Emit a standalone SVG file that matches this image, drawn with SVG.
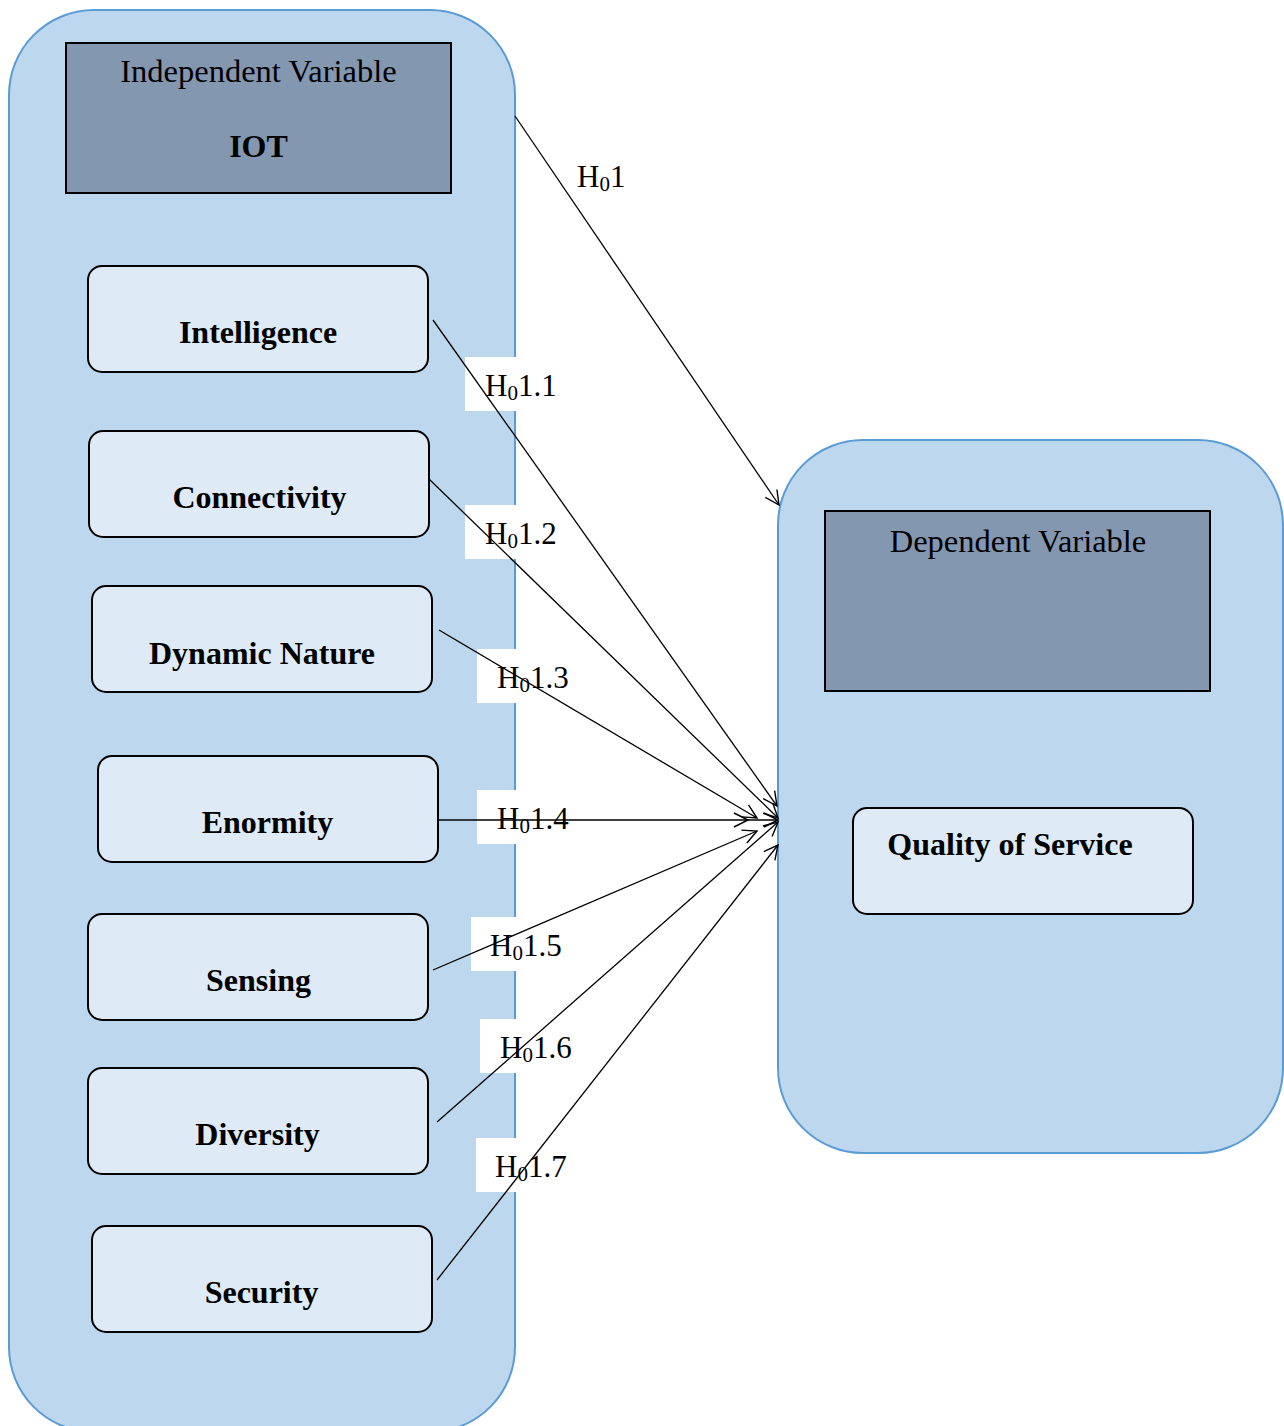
<svg xmlns="http://www.w3.org/2000/svg" width="1284" height="1426" viewBox="0 0 1284 1426">
<style>
.container{fill:#bdd7ee;stroke:#5b9bd5;stroke-width:2}
.header{fill:#8497b0;stroke:#000;stroke-width:2}
.node{fill:#deebf7;stroke:#000;stroke-width:2}
.t{font-family:"Liberation Serif","Times New Roman",serif;fill:#000}
.reg{font-size:32.5px}
.bold{font-size:32px;font-weight:bold}
.lbl{font-size:31px}
.sub{font-size:21px}
.lblbg{fill:#fff}
.conn{stroke:#000;stroke-width:1.3;fill:none;marker-end:url(#arr)}
</style>
<defs>
<marker id="arr" markerUnits="userSpaceOnUse" markerWidth="20" markerHeight="20" refX="15" refY="8" orient="auto">
<path d="M1,1 L15,8 L1,15" fill="none" stroke="#000" stroke-width="1.4"/>
</marker>
</defs>
<rect width="1284" height="1426" fill="#fff"/>
<g id="independent-container">
<rect class="container" x="9" y="10" width="506" height="1422" rx="85" ry="85"/>
</g>
<g id="dependent-container">
<rect class="container" x="778" y="440" width="505" height="713" rx="85" ry="85"/>
</g>
<g id="independent-variable">
<rect class="header" x="66" y="43" width="385" height="150"/>
<text class="t reg" x="258.5" y="82" text-anchor="middle">Independent Variable</text>
<text class="t bold" x="258.5" y="157" text-anchor="middle">IOT</text>
</g>
<g id="dependent-variable">
<rect class="header" x="825" y="511" width="385" height="180"/>
<text class="t reg" x="1018" y="552" text-anchor="middle">Dependent Variable</text>
</g>
<g id="intelligence">
<rect class="node" x="88" y="266" width="340" height="106" rx="14"/>
<text class="t bold" x="258" y="343" text-anchor="middle">Intelligence</text>
</g>
<g id="connectivity">
<rect class="node" x="89" y="431" width="340" height="106" rx="14"/>
<text class="t bold" x="259.5" y="508" text-anchor="middle">Connectivity</text>
</g>
<g id="dynamic-nature">
<rect class="node" x="92" y="586" width="340" height="106" rx="14"/>
<text class="t bold" x="262" y="664" text-anchor="middle">Dynamic Nature</text>
</g>
<g id="enormity">
<rect class="node" x="98" y="756" width="340" height="106" rx="14"/>
<text class="t bold" x="267.5" y="833" text-anchor="middle">Enormity</text>
</g>
<g id="sensing">
<rect class="node" x="88" y="914" width="340" height="106" rx="14"/>
<text class="t bold" x="258.5" y="991" text-anchor="middle">Sensing</text>
</g>
<g id="diversity">
<rect class="node" x="88" y="1068" width="340" height="106" rx="14"/>
<text class="t bold" x="257.5" y="1145" text-anchor="middle">Diversity</text>
</g>
<g id="security">
<rect class="node" x="92" y="1226" width="340" height="106" rx="14"/>
<text class="t bold" x="261.5" y="1303" text-anchor="middle">Security</text>
</g>
<g id="quality-of-service">
<rect class="node" x="853" y="808" width="340" height="106" rx="14"/>
<text class="t bold" x="1010" y="855" text-anchor="middle">Quality of Service</text>
</g>
<g id="labels">
<rect class="lblbg" x="465" y="357" width="100" height="54"/>
<rect class="lblbg" x="465" y="505" width="100" height="54"/>
<rect class="lblbg" x="477" y="649" width="100" height="54"/>
<rect class="lblbg" x="477" y="790" width="100" height="54"/>
<rect class="lblbg" x="471" y="917" width="100" height="54"/>
<rect class="lblbg" x="480" y="1019" width="100" height="54"/>
<rect class="lblbg" x="476" y="1138" width="100" height="54"/>
<text class="t lbl" x="577" y="187">H<tspan class="sub" dy="4">0</tspan><tspan dy="-4">1</tspan></text>
<text class="t lbl" x="485" y="396">H<tspan class="sub" dy="4">0</tspan><tspan dy="-4">1.1</tspan></text>
<text class="t lbl" x="485" y="544">H<tspan class="sub" dy="4">0</tspan><tspan dy="-4">1.2</tspan></text>
<text class="t lbl" x="497" y="688">H<tspan class="sub" dy="4">0</tspan><tspan dy="-4">1.3</tspan></text>
<text class="t lbl" x="497" y="829">H<tspan class="sub" dy="4">0</tspan><tspan dy="-4">1.4</tspan></text>
<text class="t lbl" x="490" y="956">H<tspan class="sub" dy="4">0</tspan><tspan dy="-4">1.5</tspan></text>
<text class="t lbl" x="500" y="1058">H<tspan class="sub" dy="4">0</tspan><tspan dy="-4">1.6</tspan></text>
<text class="t lbl" x="495" y="1177">H<tspan class="sub" dy="4">0</tspan><tspan dy="-4">1.7</tspan></text>
</g>
<g id="connectors">
<line class="conn" x1="515" y1="116" x2="779" y2="505"/>
<line class="conn" x1="433" y1="320" x2="777" y2="806"/>
<line class="conn" x1="429" y1="479" x2="778" y2="818"/>
<line class="conn" x1="439" y1="630" x2="757" y2="818"/>
<path class="conn" d="M438,820 L748,820 L778,820" style="marker-mid:url(#arr)"/>
<line class="conn" x1="433" y1="970" x2="757" y2="831"/>
<line class="conn" x1="437" y1="1122" x2="778" y2="822"/>
<line class="conn" x1="437" y1="1280" x2="778" y2="845"/>
</g>
</svg>
